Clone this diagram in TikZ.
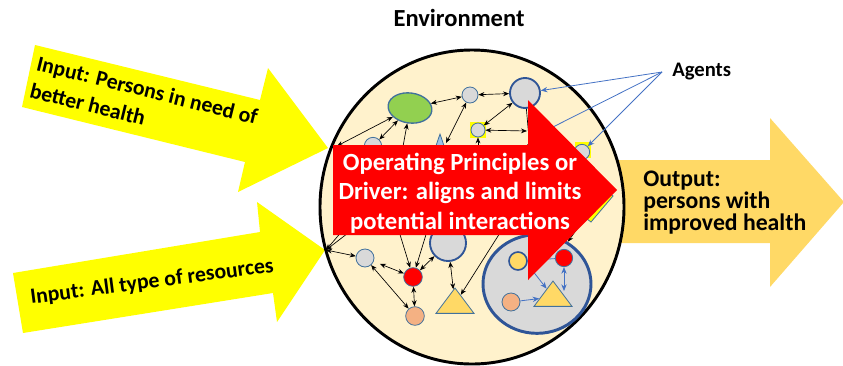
\documentclass[tikz,border=0pt]{standalone}
\usepackage{fontspec}
\setmainfont{Carlito}
\usetikzlibrary{positioning, shapes.geometric, arrows.meta}

\definecolor{inyellow}{HTML}{FFFF00}
\definecolor{outgold}{HTML}{FFD966}
\definecolor{envcream}{HTML}{FFF2CC}
\definecolor{agentgrey}{HTML}{D9D9D9}
\definecolor{agentblue}{HTML}{41719C}
\definecolor{darkblue}{HTML}{2F5597}
\definecolor{leafgreen}{HTML}{92D050}
\definecolor{peach}{HTML}{F4B183}
\definecolor{skyblue}{HTML}{9DC3E6}
\definecolor{linkblue}{HTML}{4472C4}

\tikzset{
  agent/.style={circle, draw=agentblue, fill=agentgrey, line width=0.6pt, inner sep=0pt, minimum size=12pt},
  bigagent/.style={agent, draw=darkblue, line width=1.4pt},
  redagent/.style={agent, fill=red, minimum size=14pt},
  peachagent/.style={agent, fill=peach, minimum size=14pt},
  yellowsq/.style={fill=inyellow, inner sep=0pt, minimum size=11.5pt},
  trinode/.style={isosceles triangle, isosceles triangle stretches, shape border rotate=90,
    draw=agentblue, fill=outgold, line width=0.6pt, inner sep=0pt,
    minimum width=28.5pt, minimum height=19pt},
  link/.style={<->, >={Stealth[length=4.5pt,width=3.6pt]}, line width=0.5pt},
  onelink/.style={->, >={Stealth[length=4.5pt,width=3.6pt]}, line width=0.5pt},
  bluelink/.style={->, >={Stealth[length=5pt,width=4pt]}, draw=linkblue, line width=0.6pt},
  intext/.style={font=\bfseries\fontsize{16.3}{21}\selectfont, inner sep=0pt, align=left},
  drivertext/.style={font=\bfseries\fontsize{18.5}{22}\selectfont, text=white, align=center, inner sep=0pt},
  outtext/.style={font=\bfseries\fontsize{17.8}{16.2}\selectfont, align=left, inner sep=0pt},
}

\begin{document}
\begin{tikzpicture}[x=0.75pt, y=-0.75pt]
\useasboundingbox (0,0) rectangle (843,365);

% inputs and output
\fill[inyellow] (35,45) -- (260,100) -- (268,68) -- (328,148) -- (238,192) -- (245,162) -- (22,107) -- cycle;
\fill[inyellow] (13,273) -- (260,232) -- (257,202) -- (325,250) -- (277,322) -- (273,293) -- (23,333) -- cycle;
\fill[outgold] (590,160) -- (770,160) -- (770,118) -- (844,202) -- (770,287) -- (770,243) -- (590,243) -- cycle;

\node[intext, rotate=-13.9, anchor=north west] (inpersons) at (39,55) {Input: Persons in need of\\better health};
\node[intext, rotate=7.5] (inres) at (152,282) {Input: All type of resources};
\node[outtext, anchor=north west] (outp) at (643,171) {Output:\\persons with\\improved health};

% environment
\node[ellipse, draw, fill=envcream, line width=2.2pt, minimum width=228pt, minimum height=235.5pt] (env) at (472,207) {};
\node[font=\bfseries\fontsize{18.4}{22}\selectfont] (envlbl) at (459,18) {Environment};

\coordinate (tip1) at (337,146);
\coordinate (hub) at (326,250);

% agents
\node[ellipse, draw=darkblue, fill=agentgrey, line width=2.2pt, minimum width=81pt, minimum height=74pt] (grp) at (537,284) {};
\node[ellipse, draw=agentblue, fill=leafgreen, line width=1pt, minimum width=33pt, minimum height=22.5pt, rotate=-8] (eco) at (410,108) {};
\node[agent] (a1) at (470,95) {};
\node[bigagent, minimum size=22.5pt] (a2) at (525,93) {};
\node[yellowsq] (a3bg) at (478,130) {};
\node[agent, minimum size=10.5pt] (a3) at (478,130) {};
\node[agent, minimum size=13pt] (a4) at (373,146) {};
\node[trinode, fill=skyblue, minimum width=15pt, minimum height=22pt, anchor=apex] (tri1) at (440,133) {};
\node[yellowsq] (a5bg) at (583,150) {};
\node[agent, minimum size=11.5pt] (a5) at (582,152) {};
\filldraw[fill=inyellow, draw=agentblue, line width=0.6pt] (591,222) -- (613,196) -- (600,186) -- (578,212) -- cycle;

\node[agent, minimum size=13.5pt] (a6) at (365,258) {};
\node[redagent] (r1) at (413,277) {};
\node[peachagent] (p1) at (415,316) {};
\node[bigagent, minimum size=27pt] (a7) at (448,243) {};
\node[trinode, anchor=apex] (tri2) at (455,287) {};

\node[agent, fill=outgold, draw=darkblue, line width=1.2pt, minimum size=13.5pt] (g1) at (518,261) {};
\node[redagent, minimum size=13pt] (g2) at (564,258) {};
\node[trinode, anchor=apex] (g3) at (553,280) {};
\node[peachagent, minimum size=13.5pt] (g4) at (511,302) {};

% hidden ends under the driver
\coordinate (hA) at (527,131);
\coordinate (hB) at (530,150);
\coordinate (hC) at (446,143);
\coordinate (hD) at (402,152);
\coordinate (hE) at (478,152);
\coordinate (hF) at (343,230);
\coordinate (hG) at (352,230);
\coordinate (hH) at (398,228);
\coordinate (hI) at (428,228);
\coordinate (hJ) at (505,225);
\coordinate (hK) at (588,214);
\coordinate (hL) at (532,270);
\coordinate (hM) at (545,131);
\coordinate (g3r) at (564,291);

% interactions
\draw[link] (eco) -- (a1);
\draw[link] (a1) -- (a2);
\draw[link] (a2) -- (a3);
\draw[link] (a3) -- (hA);
\draw[onelink] (a2) -- (hB);
\draw[link] (a1) -- (hC);
\draw[onelink] (hE) -- (a3);
\draw[link] (eco) -- (a4);
\draw[link] (eco) -- (tip1);
\draw[onelink] (hD) -- (eco);
\draw[link] (hub) -- (a6);
\draw[onelink] (hF) -- (hub);
\draw[onelink] (hG) -- (hub);
\draw[link] (a6) -- (p1);
\draw[link, shorten <=5pt] (a6) -- (r1);
\draw[link] (r1) -- (p1);
\draw[onelink] (hH) -- (r1);
\draw[onelink] (hI) -- (r1);
\draw[link] (r1) -- (a7);
\draw[link] (a7) -- (tri2);
\draw[onelink] (hJ) -- (tri2);
\draw[onelink] (hK) -- (grp);
\draw[bluelink] (hL) -- (g3);
\draw[bluelink] (g4) -- (g3);
\draw[bluelink, <->] (g2) -- (g3r);
\draw[draw=linkblue, line width=0.6pt] (g1) -- (g2);

% agents label
\node[font=\bfseries\fontsize{15.5}{18}\selectfont, inner sep=0pt, anchor=west] (agt) at (672,72) {Agents};
\coordinate (agtfoot) at (662,72);
\draw[bluelink] (agtfoot) -- (a2);
\draw[bluelink] (agtfoot) -- (hM);
\draw[bluelink] (agtfoot) -- (a5);

% driver
\fill[red] (333,145) -- (528,145) -- (528,100) -- (617,190) -- (528,280) -- (528,235) -- (333,235) -- cycle;
\node[drivertext] (driver) at (460,193) {Operating Principles or\\Driver: aligns and limits\\potential interactions};
\end{tikzpicture}
\end{document}
